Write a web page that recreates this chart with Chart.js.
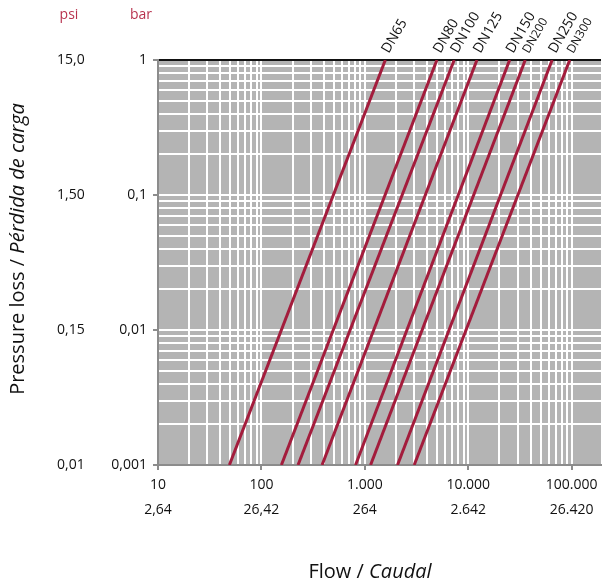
<!DOCTYPE html>
<html>
<head>
<meta charset="utf-8">
<script src="https://cdn.jsdelivr.net/npm/chart.js@4/dist/chart.umd.min.js"></script>
<style>
  body { margin: 0; background: #fff; }
  canvas { display: block; }
</style>
</head>
<body>
<canvas id="lossChart" width="602" height="585"></canvas>
<script>
// Flow in l/min (x), pressure loss in bar (y)
const xTickValues = [10, 100, 1000, 10000, 100000];
const xTickFlow = ['10', '100', '1.000', '10.000', '100.000'];
const xTickGpm = ['2,64', '26,42', '264', '2.642', '26.420'];

const yTickValues = [0.001, 0.01, 0.1, 1];
const yTickBar = ['0,001', '0,01', '0,1', '1'];
const yTickPsi = ['0,01', '0,15', '1,50', '15,0'];

const sizes = ['DN65', 'DN80', 'DN100', 'DN125', 'DN150', 'DN200', 'DN250', 'DN300'];
const lossRange = [0.001, 1];
// flow read at the bottom (0,001 bar) and top (1 bar) of each line
const flowAtMinLoss = [49, 156, 226, 386, 813, 1136, 2070, 3000];
const flowAtMaxLoss = [1578, 4975, 7310, 12130, 25120, 35560, 64700, 95700];

const X_MIN = 10, X_MAX = 192000;
const Y_MIN = 0.001, Y_MAX = 1;

const FONT = "'Open Sans', sans-serif";
const LINE_RED = '#a31c3c';
const HEAD_RED = '#b8334f';
const smallLabels = ['DN200', 'DN300'];

function isDecade(v) {
    const l = Math.log10(v);
    return Math.abs(l - Math.round(l)) < 1e-9;
}

// 1..9 x 10^n grid positions between min and max
function logGrid(min, max) {
    const out = [];
    for (let e = Math.floor(Math.log10(min)); e <= Math.ceil(Math.log10(max)); e++) {
        for (let m = 1; m <= 9; m++) {
            const v = Number((m * Math.pow(10, e)).toPrecision(6));
            if (v >= min - 1e-12 && v <= max + 1e-12) out.push(v);
        }
    }
    return out;
}

function labelFor(values, labels, v) {
    const i = values.findIndex(t => Math.abs(t - v) / t < 1e-6);
    return i < 0 ? null : labels[i];
}

function drawMixed(ctx, parts, cx, cy) {
    let total = 0;
    parts.forEach(p => { ctx.font = p.font; total += ctx.measureText(p.text).width; });
    let x = cx - total / 2;
    ctx.textAlign = 'left';
    ctx.textBaseline = 'middle';
    parts.forEach(p => {
        ctx.font = p.font;
        ctx.fillText(p.text, x, cy);
        x += ctx.measureText(p.text).width;
    });
}

const decorations = {
    id: 'decorations',
    beforeDraw(chart) {
        const { ctx, chartArea: a } = chart;
        ctx.save();
        ctx.fillStyle = '#b4b4b4';
        ctx.fillRect(a.left, a.top, a.right - a.left, a.bottom - a.top);
        ctx.restore();
    },
    afterDraw(chart) {
        const { ctx } = chart;
        const xs = chart.scales.x, ys = chart.scales.y;
        ctx.save();

        // DN labels at the top end of each line
        ctx.fillStyle = '#111';
        sizes.forEach((name, i) => {
            const px = xs.getPixelForValue(flowAtMaxLoss[i]);
            const py = ys.getPixelForValue(lossRange[1]);
            ctx.save();
            ctx.translate(px + 3.5, py - 6);
            ctx.rotate(-60 * Math.PI / 180);
            ctx.font = (smallLabels.includes(name) ? '12px ' : '14px ') + FONT;
            ctx.textAlign = 'left';
            ctx.textBaseline = 'alphabetic';
            ctx.fillText(name, 0, 0);
            ctx.restore();
        });

        // unit headers
        ctx.fillStyle = HEAD_RED;
        ctx.font = '14px ' + FONT;
        ctx.textAlign = 'center';
        ctx.textBaseline = 'middle';
        ctx.fillText('psi', 69, 15);
        ctx.fillText('bar', 141, 15);

        // axis titles
        ctx.fillStyle = '#111';
        drawMixed(ctx, [
            { text: 'Flow / ', font: '20px ' + FONT },
            { text: 'Caudal', font: 'italic 20px ' + FONT }
        ], 370, 572);

        ctx.save();
        ctx.translate(18, 249);
        ctx.rotate(-Math.PI / 2);
        drawMixed(ctx, [
            { text: 'Pressure loss / ', font: '20px ' + FONT },
            { text: 'Pérdida de carga', font: 'italic 20px ' + FONT }
        ], 0, 0);
        ctx.restore();

        ctx.restore();
    }
};

const datasets = sizes.map((name, i) => ({
    label: name,
    data: [
        { x: flowAtMinLoss[i], y: lossRange[0] },
        { x: flowAtMaxLoss[i], y: lossRange[1] }
    ],
    showLine: true,
    borderColor: LINE_RED,
    borderWidth: 3,
    pointRadius: 0,
    tension: 0
}));

const tickFont = { family: FONT, size: 14 };

new Chart(document.getElementById('lossChart'), {
    type: 'scatter',
    data: { datasets },
    options: {
        responsive: false,
        animation: false,
        devicePixelRatio: 1,
        layout: { padding: { left: 57, top: 60, right: 1, bottom: 60 } },
        plugins: {
            legend: { display: false },
            tooltip: { enabled: false }
        },
        scales: {
            x: {
                type: 'logarithmic',
                min: X_MIN,
                max: X_MAX,
                afterBuildTicks: axis => { axis.ticks = logGrid(X_MIN, X_MAX).map(v => ({ value: v })); },
                afterFit: axis => { axis.height = 60; },
                grid: {
                    color: '#ffffff',
                    lineWidth: 2,
                    tickLength: 5,
                    tickColor: c => (c.tick && isDecade(c.tick.value)) ? '#8c8c8c' : 'rgba(0,0,0,0)'
                },
                border: { color: '#8c8c8c', width: 2 },
                ticks: {
                    autoSkip: false,
                    maxRotation: 0,
                    padding: 2,
                    color: '#111',
                    font: { family: FONT, size: 14, lineHeight: 1.8 },
                    callback: v => {
                        const a = labelFor(xTickValues, xTickFlow, v);
                        return a === null ? '' : [a, labelFor(xTickValues, xTickGpm, v)];
                    }
                }
            },
            y: {
                type: 'logarithmic',
                position: 'left',
                weight: 0,
                min: Y_MIN,
                max: Y_MAX,
                afterBuildTicks: axis => { axis.ticks = logGrid(Y_MIN, Y_MAX).map(v => ({ value: v })); },
                afterFit: axis => { axis.width = 51; },
                grid: {
                    color: c => (c.tick && Math.abs(c.tick.value - Y_MAX) < 1e-9) ? '#111111' : '#ffffff',
                    lineWidth: 2,
                    tickLength: 5,
                    tickColor: c => (c.tick && isDecade(c.tick.value)) ? '#8c8c8c' : 'rgba(0,0,0,0)'
                },
                border: { color: '#8c8c8c', width: 2 },
                ticks: {
                    autoSkip: false,
                    padding: 6,
                    color: '#111',
                    font: tickFont,
                    callback: v => labelFor(yTickValues, yTickBar, v) || ''
                }
            },
            yPsi: {
                type: 'logarithmic',
                position: 'left',
                weight: 1,
                min: Y_MIN,
                max: Y_MAX,
                afterBuildTicks: axis => { axis.ticks = yTickValues.map(v => ({ value: v })); },
                afterFit: axis => { axis.width = 50; },
                grid: { display: false, drawOnChartArea: false },
                border: { display: false },
                ticks: {
                    autoSkip: false,
                    crossAlign: 'far',
                    padding: 0,
                    color: '#111',
                    font: tickFont,
                    callback: v => labelFor(yTickValues, yTickPsi, v) || ''
                }
            }
        }
    },
    plugins: [decorations]
});
</script>
</body>
</html>
